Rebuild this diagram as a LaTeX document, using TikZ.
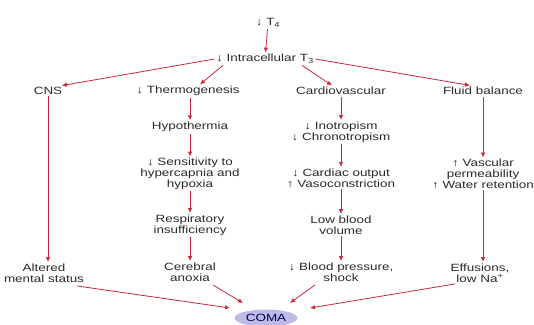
\documentclass[tikz,border=0pt]{standalone}
\usepackage{fontspec}
\setmainfont{Liberation Sans}[FakeStretch=1.28]
\usetikzlibrary{arrows.meta,shapes.geometric}
\definecolor{arrowred}{HTML}{C8283C}
\definecolor{comafill}{HTML}{BCBCE6}
\definecolor{txtgray}{HTML}{2A2A2A}

\begin{document}
\begin{tikzpicture}[x=1pt,y=1pt,
    >={Latex[length=5pt,width=4.5pt]},
    every node/.style={font=\fontsize{10.5}{10.8}\selectfont,text=txtgray,align=center,inner sep=1.5pt},
    arr/.style={draw=arrowred,line width=0.8pt,->}]
\useasboundingbox (0,0) rectangle (534,324);
% top of the cascade
\node (t4) at (268,301) {↓ T\textsubscript{4}};
\node (ict3) at (265,265) {↓ Intracellular T\textsubscript{3}};
% the four branches
\node (cns) at (48,233) {CNS};
\node (thermo) at (188,233) {↓ Thermogenesis};
\node (cardio) at (341,233) {Cardiovascular};
\node (fluid) at (483,233) {Fluid balance};
% thermogenesis column
\node (hypo) at (190,197) {Hypothermia};
\node (sens) at (190,150) {↓ Sensitivity to\\hypercapnia and\\hypoxia};
\node (resp) at (190,99) {Respiratory\\insufficiency};
\node (cereb) at (190,52) {Cerebral\\anoxia};
% cardiovascular column
\node (ino) at (341,192) {↓ Inotropism\\↓ Chronotropism};
\node (cardout) at (341,146) {↓ Cardiac output\\↑ Vasoconstriction};
\node (lowbv) at (341,99) {Low blood\\volume};
\node (bp) at (341,52) {↓ Blood pressure,\\shock};
% fluid column
\node (vasc) at (483,150) {↑ Vascular\\permeability\\↑ Water retention};
\node (effus) at (480,51) {Effusions,\\low Na\textsuperscript{+}};
% cns column
\node (altered) at (44,51) {Altered\\mental status};
\node[ellipse,fill=comafill,minimum width=63pt,minimum height=17pt,inner sep=0pt,text=black!65!blue] (coma) at (266,6) {COMA};

\draw[arr] (t4) -- (ict3);
\draw[arr] (ict3.west) -- ([xshift=-2pt]cns.north east);
\draw[arr] ([xshift=-42pt]ict3.south) -- ([xshift=12pt]thermo.north);
\draw[arr] ([xshift=37pt]ict3.south) -- ([xshift=-9pt]cardio.north);
\draw[arr] (ict3.east) -- ([xshift=-13pt]fluid.north);

\draw[arr] (cns) -- (cns |- altered.north);
\draw[arr] (thermo.south -| hypo) -- (hypo);
\draw[arr] (hypo) -- (sens);
\draw[arr] (sens) -- (resp);
\draw[arr] (resp) -- (cereb);
\draw[arr] (cardio) -- (ino);
\draw[arr] (ino) -- (cardout);
\draw[arr] (cardout) -- (lowbv);
\draw[arr] (lowbv) -- (bp);
\draw[arr] (fluid) -- (fluid |- vasc.north);
\draw[arr] (vasc.south -| fluid) -- (fluid |- effus.north);

\draw[arr] ([xshift=33pt,yshift=-2pt]altered.south) -- ([shift={(-36pt,10pt)}]coma.center);
\draw[arr] ([xshift=23pt,yshift=-2pt]cereb.south) -- ([shift={(-23pt,15pt)}]coma.center);
\draw[arr] ([xshift=-26pt,yshift=-2pt]bp.south) -- ([shift={(24pt,15pt)}]coma.center);
\draw[arr] ([xshift=-25pt]effus.south) -- ([shift={(44pt,10pt)}]coma.center);
\end{tikzpicture}
\end{document}
